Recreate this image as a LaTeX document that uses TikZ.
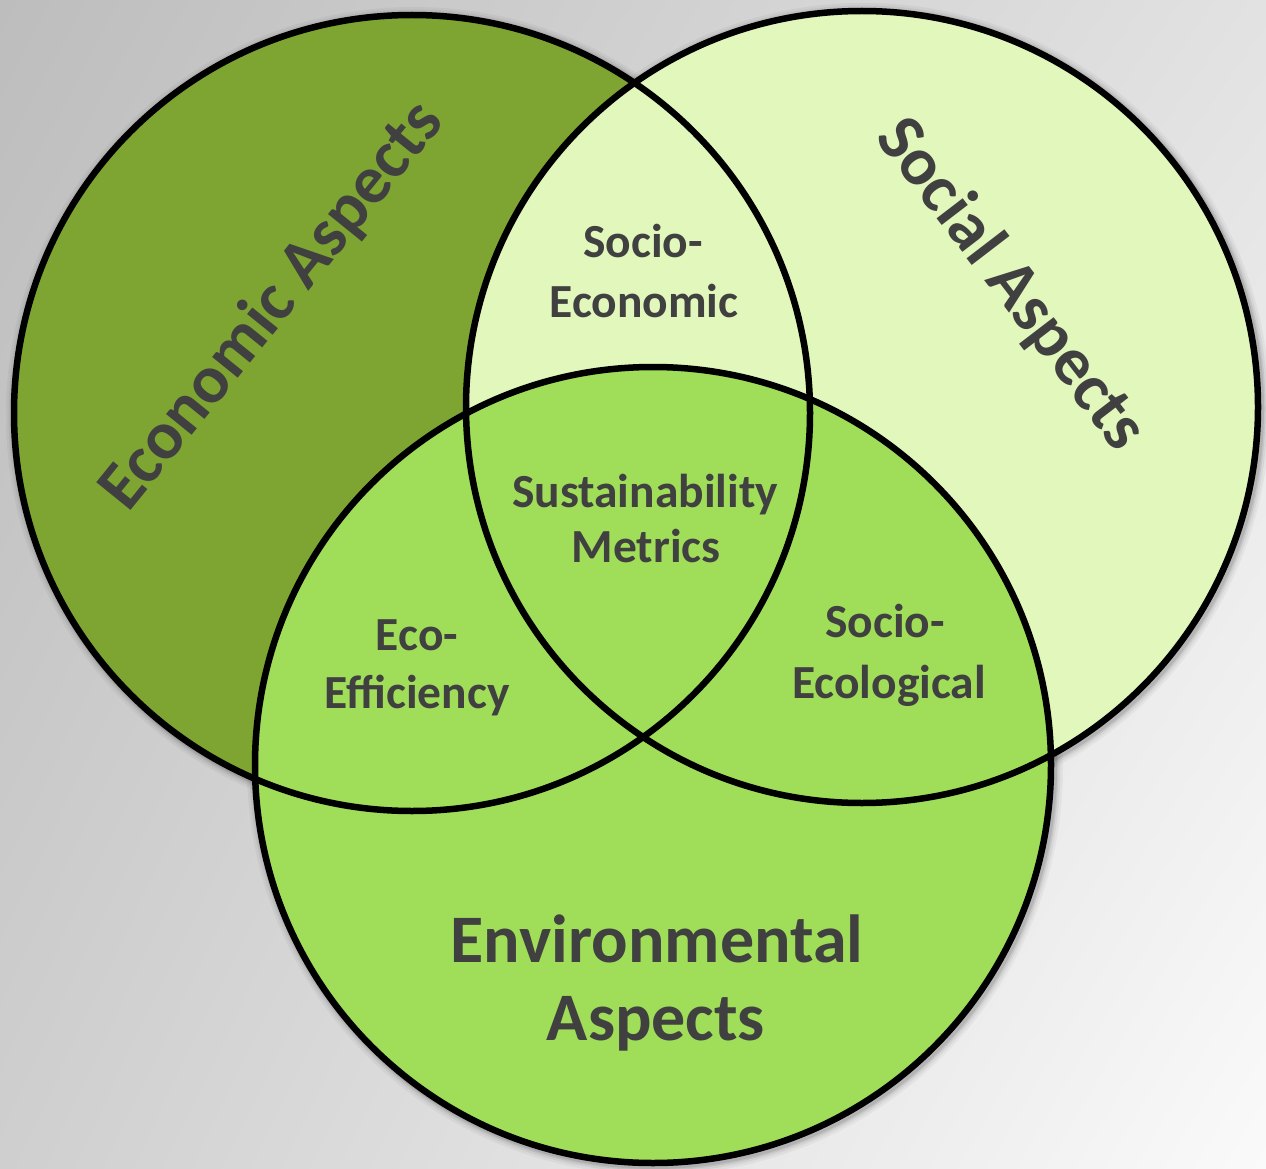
\documentclass[tikz,border=0pt]{standalone}
\usepackage{fontspec}
\usetikzlibrary{shadings}
\newfontfamily\cfont{Carlito}
\definecolor{bgUL}{HTML}{BDBDBD}
\definecolor{bgUR}{HTML}{E2E2E2}
\definecolor{bgLL}{HTML}{CFCFCF}
\definecolor{bgLR}{HTML}{FAFAFA}
\definecolor{econC}{HTML}{7EA532}
\definecolor{socC}{HTML}{E2F7BC}
\definecolor{envC}{HTML}{A0DE5A}
\definecolor{txtC}{HTML}{404040}
\tikzset{
  ring/.style={circle, draw=black, line width=6.5pt, inner sep=0pt, minimum size=#1},
  lbl/.style={text=txtC, font=\cfont\bfseries\fontsize{47.5}{56}\selectfont, anchor=base, inner sep=0pt},
  biglbl/.style={text=txtC, font=\cfont\bfseries\fontsize{68}{78}\selectfont, anchor=base, inner sep=0pt},
  shadowring/.style={draw=black, draw opacity=#1}
}
\begin{document}
\begin{tikzpicture}[x=1pt,y=-1pt]
\useasboundingbox (0,0) rectangle (1266,1169);
\shade[upper left=bgUL, upper right=bgUR, lower left=bgLL, lower right=bgLR] (0,0) rectangle (1266,1169);
% soft shadows
\foreach \w/\o in {20/0.04, 15/0.05, 11/0.07, 8/0.09}{
  \draw[shadowring=\o, line width=\w pt] (414,415) circle[radius=398pt];
  \draw[shadowring=\o, line width=\w pt] (864,409) circle[radius=396pt];
  \draw[shadowring=\o, line width=\w pt] (655,767) circle[radius=398pt];
}
% fills
\fill[econC] (412,413) circle[radius=398pt];
\fill[socC] (862,407) circle[radius=396pt];
\fill[envC] (653,765) circle[radius=398pt];
% outlines
\node[ring=796pt] (econ) at (412,413) {};
\node[ring=792pt] (social) at (862,407) {};
\node[ring=796pt] (env) at (653,765) {};
% big labels
\node[biglbl, rotate=51] (econTxt) at (287,318) {Economic Aspects};
\node[biglbl, rotate=-52.5] (socTxt) at (996,296) {Social Aspects};
\node[biglbl] (envTxt1) at (657,962) {Environmental};
\node[biglbl] (envTxt2) at (656,1040) {Aspects};
% intersection labels
\node[lbl] (se1) at (643,258) {Socio-};
\node[lbl] (se2) at (644,317) {Economic};
\node[lbl] (sm1) at (645,507) {Sustainability};
\node[lbl] (sm2) at (646,562) {Metrics};
\node[lbl] (ee1) at (417,650) {Eco-};
\node[lbl] (ee2) at (417,708) {Efficiency};
\node[lbl] (sc1) at (885,637) {Socio-};
\node[lbl] (sc2) at (889,698) {Ecological};
\end{tikzpicture}
\end{document}
